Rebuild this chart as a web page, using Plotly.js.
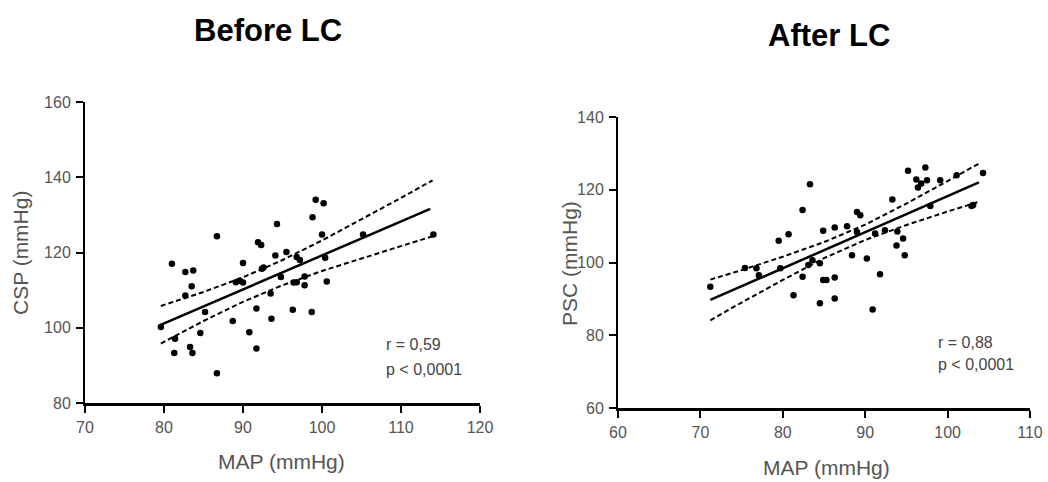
<!DOCTYPE html>
<html>
<head>
<meta charset="utf-8">
<script src="https://cdn.plot.ly/plotly-3.0.1.min.js"></script>
<style>html,body{margin:0;padding:0;background:#fff;}#chart{width:1048px;height:482px;}</style>
</head>
<body>
<div id="chart"></div>
<script>
// ---- Before LC (left panel) ----
const beforeMAP = [81.0,82.7,83.7,83.5,82.7,79.6,81.4,81.3,83.3,83.6,84.6,86.7,86.7,85.2,88.7,90.0,89.1,90.0,90.8,91.7,91.7,91.9,92.3,92.4,93.6,93.5,94.1,94.3,95.5,96.3,96.8,97.2,97.8,97.8,96.8,98.7,98.8,99.2,100.2,100.0,100.6,100.4,105.2,114.1,96.4,94.8,92.6,89.6];
const beforeCSP = [117.0,114.8,115.2,111.0,108.6,100.2,97.1,93.3,94.9,93.3,98.6,124.3,87.9,104.2,101.8,117.2,112.1,112.0,98.8,105.1,94.5,122.7,122.0,115.7,102.4,109.1,119.2,127.6,120.1,104.8,118.8,118.0,111.3,113.6,112.1,104.2,129.4,134.0,133.1,124.8,112.3,118.6,124.8,124.8,112.0,113.5,116.0,112.5];
const beforeFitX = [79.5,113.7];
const beforeFitY = [100.7,131.6];
const beforeBandX = [79.6,85,90,95,100,105,110,114];
const beforeUpper = [105.8,109.5,113.4,118.0,123.2,128.8,134.5,139.2];
const beforeLower = [95.8,101.8,106.9,111.3,115.1,118.5,121.7,124.3];

// ---- After LC (right panel) ----
const afterMAP = [71.2,75.4,76.8,77.1,79.5,80.7,79.7,81.3,82.4,83.3,82.4,83.1,84.5,84.9,84.9,85.3,84.5,86.3,86.3,86.3,87.8,88.4,89.0,89.4,89.0,90.2,90.9,91.8,92.4,93.3,93.8,94.6,94.8,95.2,96.2,96.4,96.8,97.3,97.5,97.9,99.1,102.9,103.1,104.3,101.1,91.2,93.9,83.6];
const afterPSC = [93.3,98.5,98.4,96.5,106.0,107.8,98.4,91.0,114.4,121.5,96.1,99.3,88.8,108.7,95.2,95.2,99.8,109.6,95.9,90.1,110.0,102.0,113.9,113.0,108.4,101.1,87.1,96.8,108.9,117.3,104.7,106.6,102.0,125.2,122.8,120.6,121.7,126.1,122.6,115.5,122.6,115.5,115.8,124.6,124.0,108.0,108.5,100.6];
const afterFitX = [71.2,103.8];
const afterFitY = [89.7,122.0];
const afterBandX = [71.2,75,80,85,90,95,100,103.8];
const afterUpper = [95.3,97.9,101.6,105.6,110.4,116.2,122.4,127.2];
const afterLower = [84.1,89.0,95.2,101.2,106.2,110.3,114.0,116.7];

const titles = ["Before LC","After LC"];
const xTitle = "MAP (mmHg)";
const yTitles = ["CSP (mmHg)","PSC (mmHg)"];
const stats = [["r = 0,59","p < 0,0001"],["r = 0,88","p < 0,0001"]];

const FONT = "Liberation Sans, Arial, sans-serif";
const dashLine = {color:"#000", width:2, dash:"5px,3px"};
const solidLine = {color:"#000", width:2.5};
const mk = {color:"#000", size:6.5, symbol:"circle"};

function panel(xs, ys, fx, fy, bx, up, lo, xa, ya){
  return [
    {x:xs, y:ys, mode:"markers", type:"scatter", marker:mk, xaxis:xa, yaxis:ya, hoverinfo:"skip"},
    {x:fx, y:fy, mode:"lines", type:"scatter", line:solidLine, xaxis:xa, yaxis:ya},
    {x:bx, y:up, mode:"lines", type:"scatter", line:dashLine, xaxis:xa, yaxis:ya},
    {x:bx, y:lo, mode:"lines", type:"scatter", line:dashLine, xaxis:xa, yaxis:ya}
  ];
}

const data = [].concat(
  panel(beforeMAP, beforeCSP, beforeFitX, beforeFitY, beforeBandX, beforeUpper, beforeLower, "x", "y"),
  panel(afterMAP, afterPSC, afterFitX, afterFitY, afterBandX, afterUpper, afterLower, "x2", "y2")
);

const TICKFONT = {family:FONT, size:16, color:"#555"};
function xax(dom, range){
  return {domain:dom, range:range, dtick:10, showline:true, linewidth:3, linecolor:"#000",
    ticks:"outside", ticklen:7, tickwidth:2, tickcolor:"#000", showgrid:false, zeroline:false,
    tickfont:TICKFONT, ticklabelstandoff:1, fixedrange:true};
}
function yax(dom, range, anchor){
  return {domain:dom, range:range, dtick:20, showline:true, linewidth:2, linecolor:"#000",
    ticks:"outside", ticklen:7, tickwidth:2, tickcolor:"#000", showgrid:false, zeroline:false,
    tickfont:TICKFONT, ticklabelstandoff:2, anchor:anchor, fixedrange:true};
}

const W = 1048, H = 482;
const px = v => v / W, py = v => 1 - v / H;
function note(text, x, y, size, color, extra){
  return Object.assign({text:text, x:px(x), y:py(y), xref:"paper", yref:"paper",
    xanchor:"center", yanchor:"middle", showarrow:false,
    font:{family:FONT, size:size, color:color}}, extra || {});
}

const layout = {
  width:W, height:H, margin:{l:0,r:0,t:0,b:0}, showlegend:false,
  paper_bgcolor:"#fff", plot_bgcolor:"#fff",
  xaxis: xax([px(85), px(480)], [70,120]),
  yaxis: yax([py(403), py(102)], [80,160], "x"),
  xaxis2: Object.assign(xax([px(618), px(1030)], [60,110]), {anchor:"y2"}),
  yaxis2: yax([py(408), py(117)], [60,140], "x2"),
  annotations: [
    note("<b>"+titles[0]+"</b>", 268, 31, 31, "#000"),
    note("<b>"+titles[1]+"</b>", 829, 36, 31, "#000"),
    note(xTitle, 281, 461, 21, "#555"),
    note(xTitle, 826, 467, 21, "#555"),
    note(yTitles[0], 20, 253, 21, "#555", {textangle:-90}),
    note(yTitles[1], 569, 264, 21, "#555", {textangle:-90}),
    note(stats[0][0], 384, 344, 16, "#444", {xanchor:"left"}),
    note(stats[0][1], 384, 369, 16, "#444", {xanchor:"left"}),
    note(stats[1][0], 936, 342, 16, "#444", {xanchor:"left"}),
    note(stats[1][1], 936, 364, 16, "#444", {xanchor:"left"})
  ]
};

Plotly.newPlot("chart", data, layout, {staticPlot:true, displayModeBar:false});
</script>
</body>
</html>
